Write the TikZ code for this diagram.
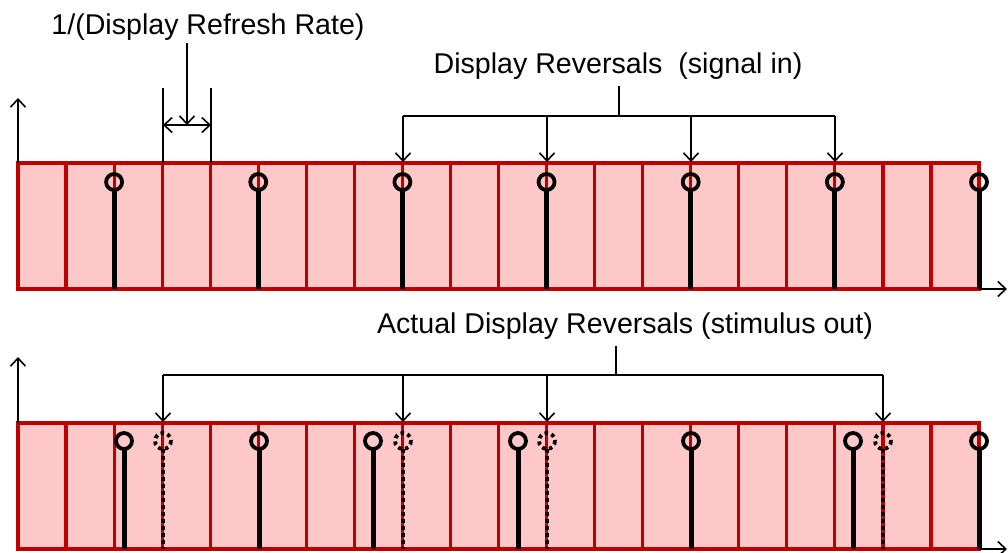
\documentclass[tikz,border=0pt]{standalone}
\usepackage{fontspec}
\setmainfont{Liberation Sans}
\usetikzlibrary{arrows.meta}
\definecolor{cellred}{HTML}{C00000}
\definecolor{cellfill}{HTML}{FFC8C8}
\begin{document}
\begin{tikzpicture}[x=1pt,y=-1pt,
  cellline/.style={draw=cellred,line width=3.2pt},
  stem/.style={line width=5pt},
  ring/.style={line width=3.8pt},
  ghoststem/.style={line width=4pt,dash pattern=on 3.5pt off 3.5pt},
  ghostring/.style={line width=3.8pt,dash pattern=on 3.5pt off 3.5pt},
  conn/.style={line width=1.6pt,-{Straight Barb[length=8pt,width=15pt,line width=1.6pt]}},
  plainline/.style={line width=1.6pt},
  lbl/.style={font=\fontsize{28.6}{32}\selectfont,inner sep=0pt,anchor=center}]
\useasboundingbox (0,0) rectangle (1008,552);

% ---------- panels ----------
\foreach \top/\bot in {163/289,423/549}{
  \fill[cellfill] (18,\top) rectangle (979,\bot);
  \foreach \k in {0,...,20}
    \draw[cellline,line cap=rect] ({18+48.05*\k},\top) -- ({18+48.05*\k},\bot);
  \draw[cellline,line cap=rect] (18,\top) -- (979,\top);
  \draw[cellline,line cap=rect] (18,\bot) -- (979,\bot);
}

% ---------- axes ----------
\coordinate (yA0) at (18,163); \coordinate (yA1) at (18,98);
\coordinate (xA0) at (979,289); \coordinate (xA1) at (1007,289);
\coordinate (yB0) at (18,423); \coordinate (yB1) at (18,357);
\coordinate (xB0) at (979,549); \coordinate (xB1) at (1007,549);
\draw[conn] (yA0) -- (yA1);
\draw[conn] (xA0) -- (xA1);
\draw[conn] (yB0) -- (yB1);
\draw[conn] (xB0) -- (xB1);

% ---------- top stems ----------
\foreach \k in {2,5,8,11,14,17,20}{
  \draw[stem] ({18+48.05*\k},190) -- ({18+48.05*\k},289);
  \draw[ring] ({18+48.05*\k},182) circle (8);
}

% ---------- bottom stems ----------
\foreach \x in {124,259,373,518,691,853,979}{
  \draw[stem] (\x,449) -- (\x,549);
  \draw[ring] (\x,441) circle (8);
}
\foreach \x in {163,403,547,883}{
  \draw[ghoststem] (\x,449) -- (\x,549);
  \draw[ghostring] (\x,441) circle (8);
}

% ---------- refresh interval ----------
\node[lbl] (lblRate) at (208,27) {1/(Display Refresh Rate)};
\coordinate (mkL0) at (163,88); \coordinate (mkL1) at (163,163);
\coordinate (mkR0) at (211,88); \coordinate (mkR1) at (211,163);
\draw[plainline] (mkL0) -- (mkL1);
\draw[plainline] (mkR0) -- (mkR1);
\coordinate (rateTop) at (187,43); \coordinate (rateBot) at (187,125);
\draw[conn] (rateTop) -- (rateBot);
\coordinate (dimL) at (163,125); \coordinate (dimR) at (211,125);
\draw[line width=1.6pt,{Straight Barb[length=8pt,width=15pt,line width=1.6pt]}-{Straight Barb[length=8pt,width=15pt,line width=1.6pt]}] (dimL) -- (dimR);

% ---------- signal in ----------
\node[lbl] (lblIn) at (618,66) {Display Reversals\ \ (signal in)};
\coordinate (inStem0) at (619,86); \coordinate (inStem1) at (619,116);
\coordinate (inBarL) at (403,116); \coordinate (inBarR) at (835,116);
\draw[plainline] (inStem0) -- (inStem1);
\draw[plainline] (inBarL) -- (inBarR);
\foreach \x in {403,547,691,835}{
  \coordinate (inA) at (\x,116); \coordinate (inB) at (\x,162);
  \draw[conn] (inA) -- (inB);
}

% ---------- stimulus out ----------
\node[lbl] (lblOut) at (625,326) {Actual Display Reversals (stimulus out)};
\coordinate (outStem0) at (616,346); \coordinate (outStem1) at (616,375);
\coordinate (outBarL) at (163,375); \coordinate (outBarR) at (883,375);
\draw[plainline] (outStem0) -- (outStem1);
\draw[plainline] (outBarL) -- (outBarR);
\foreach \x in {163,403,547,883}{
  \coordinate (outA) at (\x,375); \coordinate (outB) at (\x,422);
  \draw[conn] (outA) -- (outB);
}
\end{tikzpicture}
\end{document}
